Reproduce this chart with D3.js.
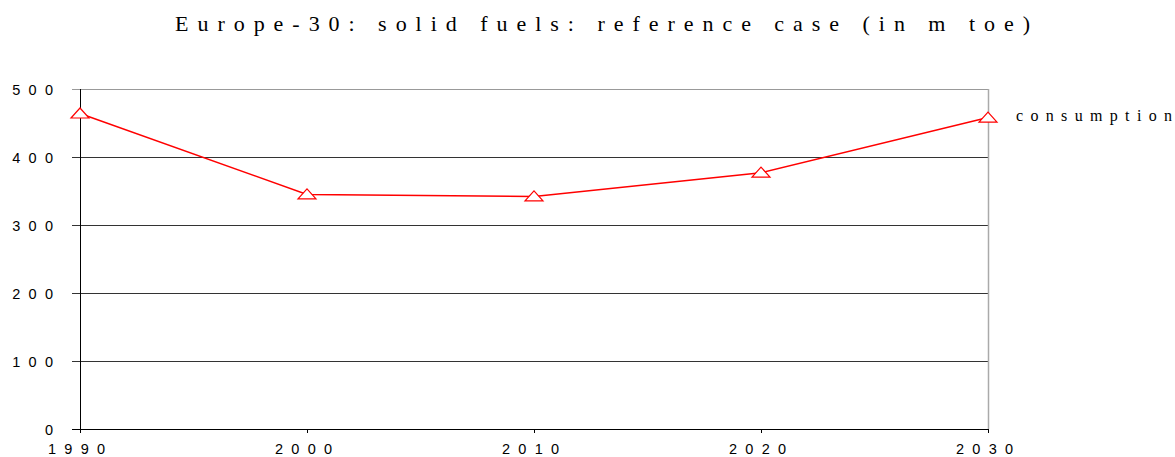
<!DOCTYPE html>
<html>
<head>
<meta charset="utf-8">
<script src="https://cdn.jsdelivr.net/npm/d3@7"></script>
<style>
  body { margin: 0; background: #fff; }
</style>
</head>
<body>
<div id="chart"></div>
<script>
// data
const years = [1990, 2000, 2010, 2020, 2030]
const consumption = [464, 345, 342, 377, 458]
const yTicks = [0, 100, 200, 300, 400, 500]
const title = 'Europe-30: solid fuels: reference case (in m toe)'
const seriesName = 'consumption'

const width = 1175
const height = 457
const svg = d3.select('#chart').append('svg').attr('width', width).attr('height', height)

// plot area
const margin = {top: 89, left: 80, bottom: 28, right: 187}
const xScale = d3.scaleLinear().domain([1990, 2030]).range([margin.left, width - margin.right])
const yScale = d3.scaleLinear().domain([0, 500]).range([height - margin.bottom, margin.top])

const sans = '"Liberation Sans", Arial, sans-serif'
const serif = '"Liberation Serif", "Times New Roman", serif'
const gap = 8.3 // the original prints digits far apart

// title
svg.append('text').text(title)
  .attr('x', 175).attr('y', 31)
  .attr('textLength', 855).attr('lengthAdjust', 'spacing')
  .attr('font-family', serif)
  .attr('font-size', 22).attr('fill', '#000')

// gridlines
svg.append('g').attr('shape-rendering', 'crispEdges')
  .selectAll('line').data(yTicks.filter(d => d > 0)).join('line')
  .attr('x1', margin.left - 8).attr('x2', xScale(2030))
  .attr('y1', d => yScale(d) + 0.5).attr('y2', d => yScale(d) + 0.5)
  .attr('stroke', d => d === 500 ? '#999' : '#333').attr('stroke-width', 1)

// right border
svg.append('line').attr('x1', xScale(2030) + 0.5).attr('x2', xScale(2030) + 0.5)
  .attr('y1', yScale(500)).attr('y2', yScale(0))
  .attr('stroke', '#aaa').attr('stroke-width', 1.5)

// axes
const axes = svg.append('g').attr('shape-rendering', 'crispEdges')
axes.append('line').attr('x1', margin.left - 8).attr('x2', xScale(2030))
  .attr('y1', yScale(0) + 0.5).attr('y2', yScale(0) + 0.5).attr('stroke', '#000').attr('stroke-width', 1)
axes.append('line').attr('x1', margin.left + 0.5).attr('x2', margin.left + 0.5)
  .attr('y1', yScale(500)).attr('y2', yScale(0) + 4).attr('stroke', '#000').attr('stroke-width', 1.5)
axes.selectAll('line.tick').data(years).join('line').attr('class', 'tick')
  .attr('x1', d => xScale(d) + 0.5).attr('x2', d => xScale(d) + 0.5)
  .attr('y1', yScale(0)).attr('y2', yScale(0) + 4)
  .attr('stroke', '#000').attr('stroke-width', 1)

// y tick labels
svg.append('g').selectAll('text').data(yTicks).join('text')
  .text(d => String(d))
  .attr('x', 53).attr('y', d => yScale(d) + 6)
  .attr('text-anchor', 'end')
  .attr('font-family', sans)
  .attr('font-size', 14.5)
  .attr('letter-spacing', gap)
  .attr('dx', gap)

// x tick labels
svg.append('g').selectAll('text').data(years).join('text')
  .text(d => String(d))
  .attr('x', d => xScale(d) - 32).attr('y', 454)
  .attr('font-family', sans)
  .attr('font-size', 14.5)
  .attr('letter-spacing', gap)

// series line
const line = d3.line().x((d, i) => xScale(years[i])).y(d => yScale(d))
svg.append('path').datum(consumption).attr('d', line)
  .attr('fill', 'none').attr('stroke', '#ff0000').attr('stroke-width', 1.5)

// triangle markers
svg.append('g').selectAll('path').data(consumption).join('path')
  .attr('d', (d, i) => {
    const x = xScale(years[i]), y = yScale(d)
    return `M${x},${y - 5.5}L${x + 9},${y + 4.5}L${x - 9},${y + 4.5}Z`
  })
  .attr('fill', '#fff').attr('stroke', '#ff0000').attr('stroke-width', 1.2)

// legend
svg.append('text').text(seriesName)
  .attr('x', 1016).attr('y', 121)
  .attr('textLength', 156).attr('lengthAdjust', 'spacing')
  .attr('font-family', serif)
  .attr('font-size', 16).attr('fill', '#000')
</script>
</body>
</html>
